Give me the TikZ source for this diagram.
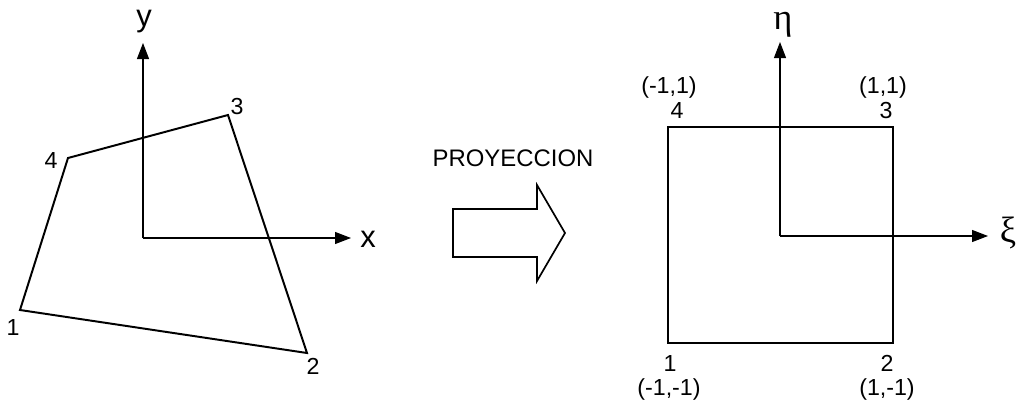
\documentclass[tikz,border=0pt]{standalone}
\usepackage{fontspec}
\setmainfont{Liberation Sans}
\newfontfamily\greekfont{Liberation Serif}
\usetikzlibrary{arrows.meta}

\begin{document}
\begin{tikzpicture}[
      x=0.025cm, y=-0.025cm,
      every node/.style={inner sep=0pt, font=\fontsize{16.5}{19}\selectfont},
      quad/.style={line width=1.4pt, line join=miter},
      axis/.style={-{Triangle[length=4mm, width=3mm]}, line width=0.75pt},
      axlabel/.style={font=\fontsize{22}{25}\selectfont},
      greek/.style={font=\fontsize{26}{30}\selectfont\greekfont},
      bigarrow/.style={line width=1.2pt, line join=miter},
  ]
    \useasboundingbox (0,0) rectangle (1019,403);

    %% --- Physical element ---
    \coordinate (p1) at (20,310);
    \coordinate (p2) at (307,353);
    \coordinate (p3) at (228,115);
    \coordinate (p4) at (68,158);
    \draw[quad] (p1) -- (p2) -- (p3) -- (p4) -- cycle;

    \coordinate (o1) at (143,238);
    \coordinate (xend) at (351,238);
    \coordinate (yend) at (143,43);
    \draw[axis] (o1) -- (xend);
    \draw[axis] (o1) -- (yend);
    \node[axlabel] (xlab) at (368,239) {x};
    \node[axlabel] (ylab) at (144,22) {y};

    \node (n1) at (13,328) {1};
    \node (n2) at (313,366) {2};
    \node (n3) at (237,107) {3};
    \node (n4) at (51,161) {4};

    %% --- Projection arrow ---
    \node[font=\fontsize{17}{20}\selectfont] (proy) at (513,158) {PROYECCION};
    \draw[bigarrow] (453,209) -- (537,209) -- (537,185) -- (565,233)
      -- (537,281) -- (537,257) -- (453,257) -- cycle;

    %% --- Reference element ---
    \coordinate (q1) at (668,343);
    \coordinate (q2) at (893,343);
    \coordinate (q3) at (893,127);
    \coordinate (q4) at (668,127);
    \draw[quad] (q1) -- (q2) -- (q3) -- (q4) -- cycle;

    \coordinate (o2) at (780,236);
    \coordinate (xiend) at (988,236);
    \coordinate (etaend) at (780,42);
    \draw[axis] (o2) -- (xiend);
    \draw[axis] (o2) -- (etaend);
    \node[greek] (xilab) at (1008,233) {ξ};
    \node[greek] (etalab) at (783,25) {η};

    \node (m4) at (677,111) {4};
    \node (c4) at (669,87) {(-1,1)};
    \node (m3) at (886,111) {3};
    \node (c3) at (883,87) {(1,1)};
    \node (m1) at (670,364) {1};
    \node (c1) at (669,389) {(-1,-1)};
    \node (m2) at (887,363) {2};
    \node (c2) at (887,389) {(1,-1)};
  \end{tikzpicture}
\end{document}
